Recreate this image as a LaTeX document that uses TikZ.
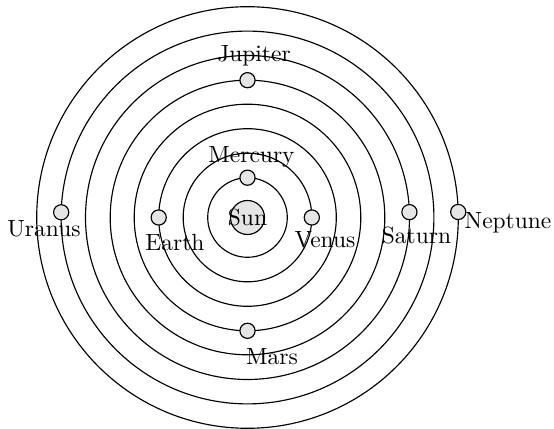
\documentclass[tikz,border=0pt]{standalone}
\begin{document}
\begin{tikzpicture}[x=0.4348pt,y=0.4348pt,
  orbit/.style={draw=black,line width=0.5pt},
  body/.style={circle,draw=black,fill=black!10,line width=0.5pt,inner sep=0pt},
  planetbody/.style={body,minimum size=6.6pt},
  sunbody/.style={body,minimum size=14.8pt},
  lbl/.style={anchor=base,inner sep=0pt,font=\fontsize{10.2pt}{12pt}\selectfont}]
\useasboundingbox (0,0) rectangle (554,-429);
\coordinate (c) at (247.5,-217.5);
\foreach \r in {39.8,64.3,88.8,113.3,137.3,162,186.4,210.8}
  \draw[orbit] (c) circle[radius=\r];
\node[sunbody] (sun) at (c) {};
\node[planetbody] (mercury) at ([shift={(90:39.8)}]c) {};
\node[planetbody] (venus) at ([shift={(0:64.3)}]c) {};
\node[planetbody] (earth) at ([shift={(180:88.8)}]c) {};
\node[planetbody] (mars) at ([shift={(270:113.3)}]c) {};
\node[planetbody] (jupiter) at ([shift={(90:137.3)}]c) {};
\node[planetbody] (saturn) at ([shift={(1.9:162)}]c) {};
\node[planetbody] (uranus) at ([shift={(178.4:186.4)}]c) {};
\node[planetbody] (neptune) at ([shift={(1.5:210.8)}]c) {};
\node[lbl] (sunl) at (247.5,-226) {Sun};
\node[lbl] (mercuryl) at (251.5,-163) {Mercury};
\node[lbl] (venusl) at (325,-248) {Venus};
\node[lbl] (earthl) at (175,-251) {Earth};
\node[lbl] (marsl) at (272,-365) {Mars};
\node[lbl] (jupiterl) at (254,-62) {Jupiter};
\node[lbl] (saturnl) at (416.5,-244) {Saturn};
\node[lbl] (uranusl) at (44,-237) {Uranus};
\node[lbl] (neptunel) at (508,-229) {Neptune};
\end{tikzpicture}
\end{document}
